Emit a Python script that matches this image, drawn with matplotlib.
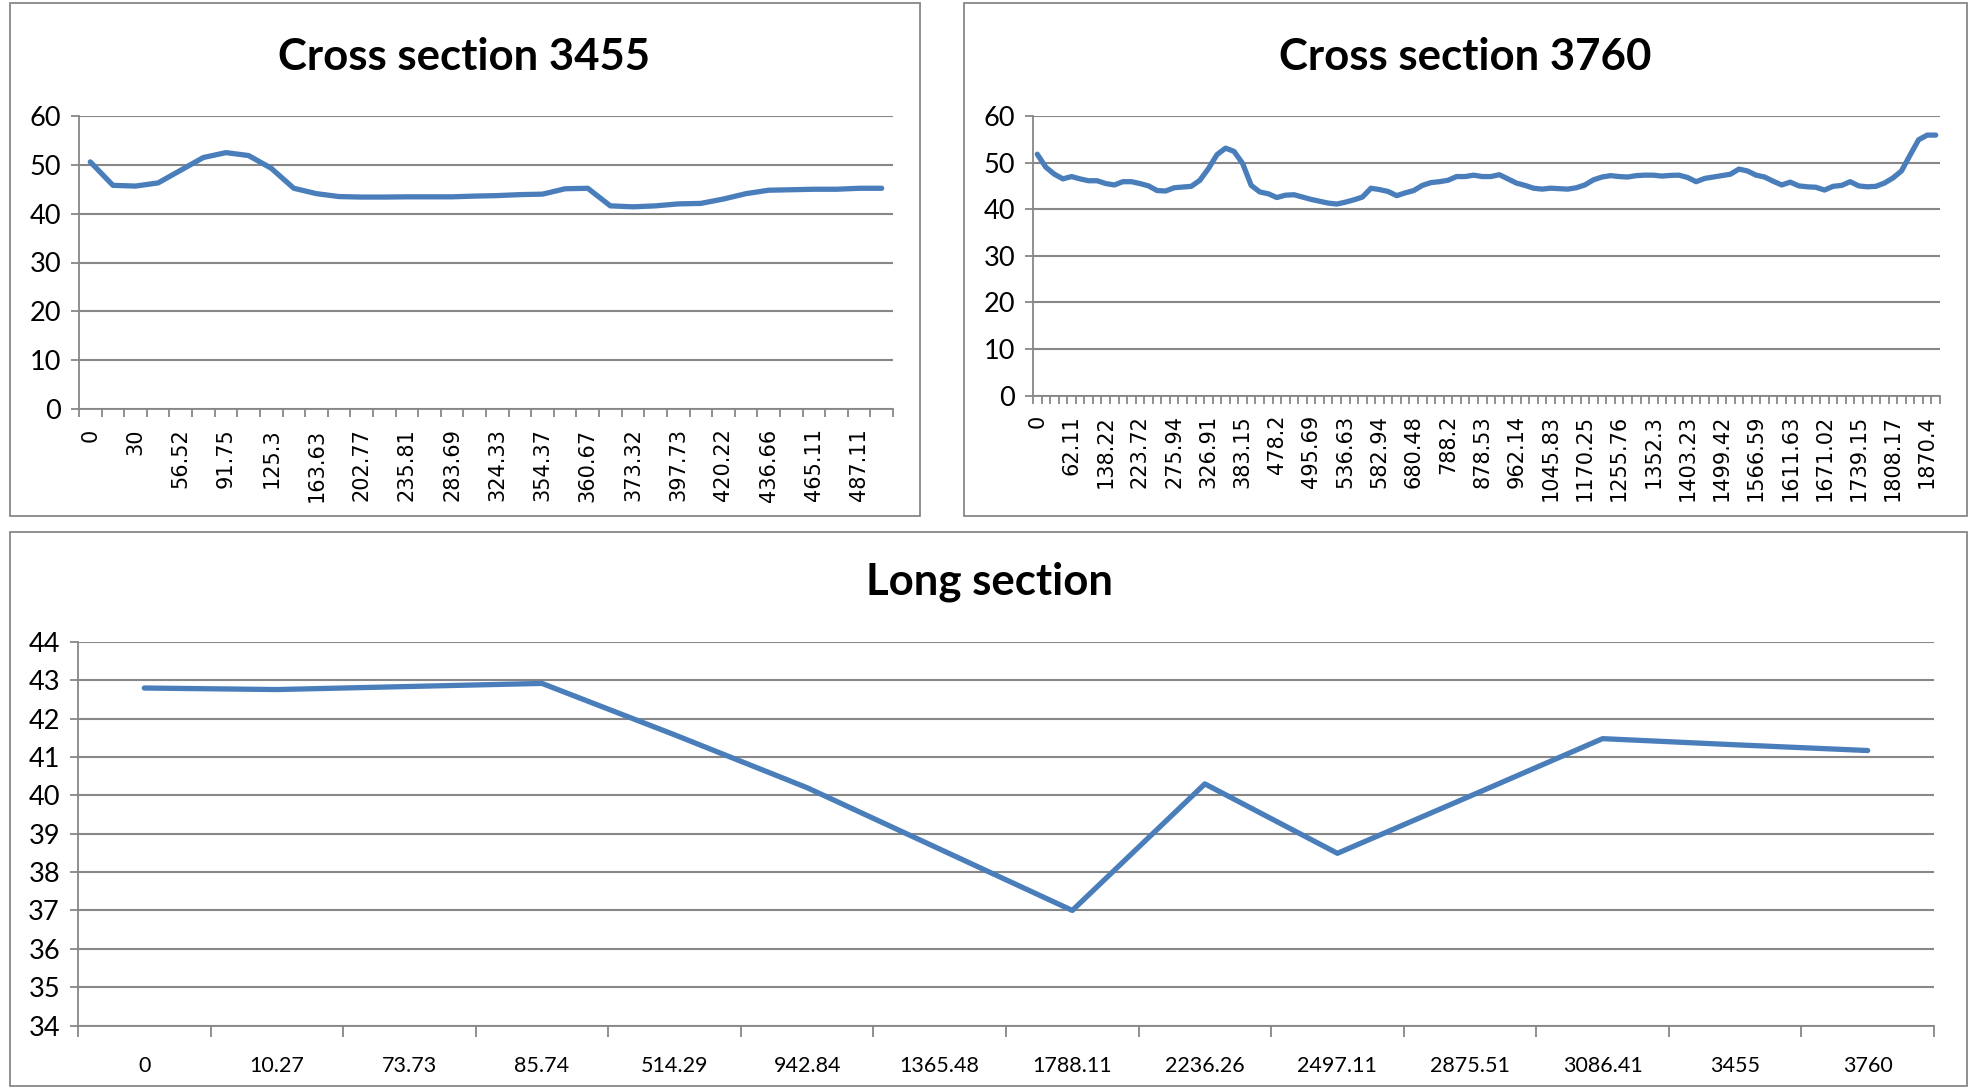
import numpy as np
import matplotlib
matplotlib.use("Agg")
import matplotlib.pyplot as plt
from matplotlib.patches import Rectangle

# cross section 3455 (every other station label is shown)
labels_3455 = ["0", "30", "56.52", "91.75", "125.3", "163.63", "202.77", "235.81",
               "283.69", "324.33", "354.37", "360.67", "373.32", "397.73", "420.22",
               "436.66", "465.11", "487.11"]
elev_3455 = [50.6, 45.8, 45.65, 46.3, 48.9, 51.5, 52.5, 51.9, 49.3, 45.2, 44.1, 43.5,
             43.4, 43.4, 43.45, 43.45, 43.45, 43.6, 43.7, 43.9, 44.0, 45.1, 45.2, 41.6,
             41.4, 41.6, 42.0, 42.1, 43.0, 44.1, 44.8, 44.9, 45.0, 45.0, 45.2, 45.2]

# cross section 3760 (every fourth station label is shown)
labels_3760 = ["0", "62.11", "138.22", "223.72", "275.94", "326.91", "383.15", "478.2",
               "495.69", "536.63", "582.94", "680.48", "788.2", "878.53", "962.14",
               "1045.83", "1170.25", "1255.76", "1352.3", "1403.23", "1499.42",
               "1566.59", "1611.63", "1671.02", "1739.15", "1808.17", "1870.4"]
elev_3760 = [51.8, 49.0, 47.5, 46.5, 47.0, 46.5, 46.1, 46.1, 45.5, 45.2,
             45.9, 45.9, 45.5, 45.0, 44.0, 43.9, 44.6, 44.75, 44.9, 46.2,
             48.7, 51.7, 53.1, 52.4, 49.8, 45.1, 43.7, 43.3, 42.5, 43.0,
             43.1, 42.6, 42.1, 41.7, 41.3, 41.1, 41.5, 42.0, 42.6, 44.5,
             44.2, 43.8, 42.9, 43.5, 44.0, 45.1, 45.7, 45.9, 46.2, 47.0,
             47.0, 47.3, 47.0, 47.0, 47.4, 46.5, 45.6, 45.1, 44.5, 44.3,
             44.5, 44.4, 44.3, 44.6, 45.2, 46.3, 46.9, 47.2, 47.0, 46.9,
             47.2, 47.3, 47.3, 47.1, 47.25, 47.3, 46.8, 45.9, 46.6, 46.9,
             47.2, 47.5, 48.6, 48.2, 47.3, 46.9, 46.0, 45.2, 45.8, 45.0,
             44.8, 44.7, 44.1, 44.9, 45.1, 45.9, 45.0, 44.8, 44.9, 45.6,
             46.7, 48.2, 51.6, 54.9, 55.9, 55.9]

# long section
labels_long = ["0", "10.27", "73.73", "85.74", "514.29", "942.84", "1365.48", "1788.11",
               "2236.26", "2497.11", "2875.51", "3086.41", "3455", "3760"]
elev_long = [42.8, 42.76, 42.84, 42.92, 41.58, 40.2, 38.6, 37.0, 40.3, 38.49, 39.98,
             41.48, 41.32, 41.17]

W, H = 1975, 1088
fig = plt.figure(figsize=(W / 100, H / 100), dpi=100)

blue = "#4a7ebb"
grey = "#878787"
label_font = ["Lato", "DejaVu Sans"]


def px(x0, y0, x1, y1):
    # pixel box (top-left origin) -> figure fraction rect
    return [x0 / W, 1 - y1 / H, (x1 - x0) / W, (y1 - y0) / H]


def frame(x0, y0, x1, y1):
    fig.patches.append(Rectangle((x0 / W, 1 - y1 / H), (x1 - x0) / W, (y1 - y0) / H,
                                 transform=fig.transFigure, fill=False,
                                 edgecolor=grey, linewidth=1.3))


def style(ax, n, ylim, ystep, tick_len):
    ax.set_xlim(-0.5, n - 0.5)
    ax.set_ylim(*ylim)
    ax.set_yticks(np.arange(ylim[0], ylim[1] + 0.1, ystep))
    ax.yaxis.grid(True, color=grey, linewidth=1.5)
    ax.set_axisbelow(True)
    for s in ["top", "right"]:
        ax.spines[s].set_visible(False)
    for s in ["left", "bottom"]:
        ax.spines[s].set_color(grey)
        ax.spines[s].set_linewidth(1.3)
    ax.set_xticks(np.arange(n + 1) - 0.5, minor=True)
    ax.tick_params(axis="x", which="minor", length=tick_len, width=1.3, color=grey)
    ax.tick_params(axis="x", which="major", length=0)
    ax.tick_params(axis="y", length=6, width=1.3, color=grey, pad=7)
    for t in ax.get_yticklabels():
        t.set_family(label_font)
        t.set_fontsize(19.5)


# Cross section 3455
frame(10, 3, 920, 516)
ax1 = fig.add_axes(px(79, 116, 893, 409))
n1 = len(elev_3455)
ax1.plot(np.arange(n1), elev_3455, color=blue, linewidth=3.8, solid_capstyle="round")
style(ax1, n1, (0, 60), 10, 6)
ax1.set_xticks(np.arange(0, n1, 2))
ax1.set_xticklabels(labels_3455, rotation=90, fontsize=15, family="DejaVu Sans")
ax1.tick_params(axis="x", which="major", pad=14)
fig.text(464 / W, 1 - 57 / H, "Cross section 3455", ha="center", va="center",
         fontsize=31.5, fontweight="bold", family=label_font)

# Cross section 3760
frame(964, 3, 1967, 516)
ax2 = fig.add_axes(px(1033, 116, 1940, 395.5))
n2 = len(elev_3760)
ax2.plot(np.arange(n2), elev_3760, color=blue, linewidth=3.8, solid_capstyle="round")
style(ax2, n2, (0, 60), 10, 6)
ax2.set_xticks(np.arange(0, n2, 4))
ax2.set_xticklabels(labels_3760, rotation=90, fontsize=15, family="DejaVu Sans")
ax2.tick_params(axis="x", which="major", pad=14)
fig.text(1465 / W, 1 - 57 / H, "Cross section 3760", ha="center", va="center",
         fontsize=31.5, fontweight="bold", family=label_font)

# Long section
frame(10, 532, 1967, 1086)
ax3 = fig.add_axes(px(78, 642, 1934, 1025.5))
n3 = len(elev_long)
ax3.plot(np.arange(n3), elev_long, color=blue, linewidth=3.8, solid_capstyle="round")
style(ax3, n3, (34, 44), 1, 8)
ax3.set_xticks(np.arange(n3))
ax3.set_xticklabels(labels_long, fontsize=15.5, family=label_font)
ax3.tick_params(axis="x", which="major", pad=22)
fig.text(989 / W, 1 - 582 / H, "Long section", ha="center", va="center",
         fontsize=31.5, fontweight="bold", family=label_font)

fig.savefig("out.png", dpi=100)
